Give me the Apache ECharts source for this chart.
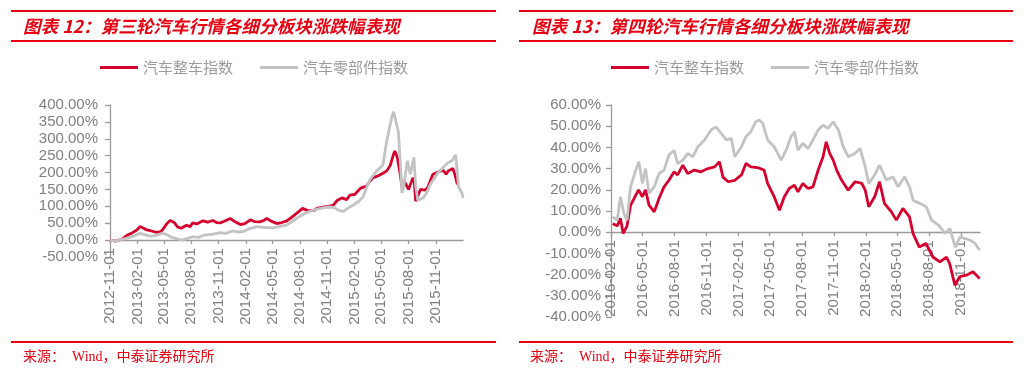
<!DOCTYPE html>
<html>
<head>
<meta charset="utf-8">
<script src="https://cdn.jsdelivr.net/npm/echarts@6/dist/echarts.min.js"></script>
<style>
html,body{margin:0;padding:0;background:#fff;}
#chart{width:1024px;height:373px;}
</style>
</head>
<body>
<div id="chart"></div>
<script>
// ---------- DATA ----------
const seriesNames = ['汽车整车指数', '汽车零部件指数'];
const titles = ['图表 12：第三轮汽车行情各细分板块涨跌幅表现', '图表 13：第四轮汽车行情各细分板块涨跌幅表现'];
const sourceText = '来源：  Wind，中泰证券研究所';

const ticks3 = ['2012-11-01','2013-02-01','2013-05-01','2013-08-01','2013-11-01','2014-02-01','2014-05-01','2014-08-01','2014-11-01','2015-02-01','2015-05-01','2015-08-01','2015-11-01'];
const ticks4 = ['2016-02-01','2016-05-01','2016-08-01','2016-11-01','2017-02-01','2017-05-01','2017-08-01','2017-11-01','2018-02-01','2018-05-01','2018-08-01','2018-11-01'];
const range3 = ['2012-11-01', '2016-01-31'];
const range4 = ['2016-02-01', '2018-12-25'];

// Round 3: vehicle index (%)
const r3Vehicle = [
['2012-11-01',0],['2012-11-20',-3],['2012-12-10',2],['2012-12-28',14],['2013-01-16',22],['2013-01-30',30],
['2013-02-10',40],['2013-02-22',35],['2013-03-04',30],['2013-03-20',27],['2013-04-07',23],['2013-04-20',25],
['2013-04-28',32],['2013-05-10',48],['2013-05-22',58],['2013-06-05',52],['2013-06-16',39],['2013-06-28',35],
['2013-07-16',44],['2013-07-28',40],['2013-08-06',51],['2013-08-20',48],['2013-09-09',57],['2013-09-25',53],
['2013-10-13',58],['2013-10-25',52],['2013-11-06',51],['2013-11-20',56],['2013-12-10',64],['2013-12-25',55],
['2014-01-13',46],['2014-01-28',49],['2014-02-16',60],['2014-03-01',55],['2014-03-19',54],['2014-04-01',58],
['2014-04-12',64],['2014-04-25',57],['2014-05-15',49],['2014-06-01',52],['2014-06-18',57],['2014-07-05',68],
['2014-07-22',80],['2014-08-10',94],['2014-08-25',88],['2014-09-15',87],['2014-09-30',95],['2014-10-19',98],
['2014-11-05',100],['2014-11-22',104],['2014-12-05',118],['2014-12-20',125],['2015-01-05',120],['2015-01-16',133],
['2015-02-01',135],['2015-02-21',154],['2015-03-13',160],['2015-03-25',175],['2015-04-04',185],['2015-04-20',190],
['2015-05-07',198],['2015-05-20',205],['2015-06-01',222],['2015-06-12',255],['2015-06-16',264],['2015-06-24',246],
['2015-07-03',200],['2015-07-10',158],['2015-07-19',172],['2015-08-01',150],['2015-08-16',185],['2015-08-20',175],
['2015-08-25',115],['2015-09-10',150],['2015-09-25',148],['2015-10-04',155],['2015-10-22',195],['2015-11-05',200],
['2015-11-25',207],['2015-12-05',195],['2015-12-13',205],['2015-12-28',212],['2016-01-05',190],['2016-01-12',165]
];
// Round 3: parts index (%)
const r3Parts = [
['2012-11-01',0],['2012-11-20',-3],['2012-12-10',2],['2012-12-28',6],['2013-01-20',12],['2013-02-10',20],
['2013-02-25',16],['2013-03-15',12],['2013-04-05',14],['2013-04-25',20],['2013-05-10',17],['2013-05-25',9],
['2013-06-13',4],['2013-07-01',0],['2013-07-20',5],['2013-08-06',10],['2013-08-25',8],['2013-09-15',15],
['2013-10-13',18],['2013-11-06',22],['2013-11-25',20],['2013-12-19',27],['2014-01-05',24],['2014-01-22',25],
['2014-02-10',33],['2014-03-10',40],['2014-04-01',38],['2014-05-01',36],['2014-05-20',39],['2014-06-18',45],
['2014-07-05',55],['2014-07-22',65],['2014-08-10',75],['2014-08-25',82],['2014-09-28',92],['2014-10-20',96],
['2014-11-10',98],['2014-11-25',96],['2014-12-10',88],['2014-12-25',85],['2015-01-10',95],['2015-01-28',104],
['2015-02-15',115],['2015-03-01',128],['2015-03-15',160],['2015-03-25',180],['2015-04-16',205],['2015-05-07',222],
['2015-05-19',290],['2015-06-06',365],['2015-06-12',380],['2015-06-20',350],['2015-06-28',320],['2015-07-05',220],
['2015-07-10',140],['2015-07-16',160],['2015-07-28',235],['2015-08-07',195],['2015-08-19',245],['2015-08-25',160],
['2015-09-01',118],['2015-09-19',125],['2015-10-01',140],['2015-10-13',165],['2015-11-06',197],['2015-11-25',215],
['2015-12-10',228],['2015-12-25',235],['2016-01-06',252],['2016-01-12',200],['2016-01-16',158],['2016-01-28',138],
['2016-01-31',125]
];
// Round 4: vehicle index (%)
const r4Vehicle = [
['2016-02-06',4],['2016-02-19',3],['2016-02-28',6.5],['2016-03-07',-0.6],['2016-03-18',3],['2016-03-28',12.7],
['2016-04-20',20],['2016-05-01',16.7],['2016-05-10',20],['2016-05-20',12.8],['2016-06-04',9.6],['2016-06-18',16],
['2016-07-02',21.4],['2016-07-16',24.5],['2016-07-31',28.5],['2016-08-10',27],['2016-08-25',31.6],['2016-09-08',27.7],
['2016-09-27',29.3],['2016-10-16',28.5],['2016-11-05',30],['2016-11-24',30.8],['2016-12-08',33.2],['2016-12-18',26],
['2017-01-02',23.8],['2017-01-21',24.5],['2017-02-09',27],['2017-02-22',32.4],['2017-03-08',30.8],['2017-03-27',30.5],
['2017-04-15',29.3],['2017-04-25',23],['2017-05-14',16.7],['2017-05-29',10.4],['2017-06-12',16.7],['2017-06-26',20.6],
['2017-07-11',22.2],['2017-07-21',19],['2017-08-04',23],['2017-08-19',20.6],['2017-09-02',21.4],['2017-09-17',29.3],
['2017-10-01',35.6],['2017-10-10',42.6],['2017-10-20',37.2],['2017-10-30',34],['2017-11-09',29.3],['2017-11-23',24.6],
['2017-12-12',19.8],['2018-01-01',23.8],['2018-01-20',23],['2018-01-30',19.8],['2018-02-09',12],['2018-02-26',16.7],
['2018-03-12',23.8],['2018-03-26',13.6],['2018-04-15',9.6],['2018-04-29',5.7],['2018-05-18',11.2],['2018-06-06',7.2],
['2018-06-16',-0.6],['2018-07-04',-7],['2018-07-23',-5.3],['2018-08-12',-11.7],['2018-09-01',-14],['2018-09-20',-11.7],
['2018-09-29',-14.8],['2018-10-14',-25],['2018-10-28',-21],['2018-11-16',-20.3],['2018-12-05',-18.7],['2018-12-24',-21.9]
];
// Round 4: parts index (%)
const r4Parts = [
['2016-02-06',7.2],['2016-02-19',5.7],['2016-02-28',16.7],['2016-03-09',8.8],['2016-03-18',5.7],['2016-03-28',21.4],
['2016-04-12',29.3],['2016-04-21',33.2],['2016-05-01',23],['2016-05-10',30],['2016-05-20',18.3],['2016-06-04',21.4],
['2016-06-18',27.7],['2016-07-02',29.3],['2016-07-16',36.4],['2016-07-31',38.7],['2016-08-10',32.4],['2016-08-25',34],
['2016-09-08',37.2],['2016-09-23',35.6],['2016-10-07',40.3],['2016-10-26',43.5],['2016-11-14',48.2],['2016-11-28',49.7],
['2016-12-13',46.6],['2016-12-28',43.5],['2017-01-11',44.3],['2017-01-21',35.6],['2017-02-09',40.3],['2017-02-22',45],
['2017-03-08',47.4],['2017-03-22',52.1],['2017-04-01',52.9],['2017-04-11',51.4],['2017-04-25',43.5],['2017-05-14',40.3],
['2017-06-03',34],['2017-06-17',38.7],['2017-07-01',45],['2017-07-11',47.4],['2017-07-21',38.7],['2017-08-04',41.9],
['2017-08-19',39.5],['2017-09-02',43.5],['2017-09-17',48.2],['2017-10-01',50.5],['2017-10-15',49],['2017-10-30',52.1],
['2017-11-14',48.2],['2017-11-28',40.3],['2017-12-12',35.6],['2018-01-01',37.2],['2018-01-15',39.5],['2018-01-30',30.8],
['2018-02-09',23],['2018-02-26',27],['2018-03-12',31.6],['2018-03-31',24.6],['2018-04-20',26.1],['2018-05-04',21.4],
['2018-05-23',26.1],['2018-06-06',21.4],['2018-06-16',15.1],['2018-07-05',13.6],['2018-07-24',12],['2018-08-08',5.7],
['2018-08-28',3.3],['2018-09-16',-0.6],['2018-09-30',1.7],['2018-10-15',-7],['2018-10-29',-2.2],['2018-11-12',-3],
['2018-11-27',-3.8],['2018-12-11',-5.3],['2018-12-24',-8.5]
];

// ---------- STYLE ----------
const RED = '#d5002e', GREY = '#c3c3c3', TITLE_RED = '#e60012';
const AXIS_GREY = '#9a9a9a', LABEL_GREY = '#7f7f7f';
const SANS = '"Liberation Sans", Arial, sans-serif';
const CJK = '"Noto Sans CJK SC", sans-serif';

const grids = [
  { left: 110, right: 561, top: 105, bottom: 116 },
  { left: 611, right: 44, top: 105, bottom: 56 }
];
const yRanges = [[-50, 400, 50], [-40, 60, 10]];

function ts(s) { const p = s.split('-').map(Number); return Date.UTC(p[0], p[1] - 1, p[2]); }
function pad(n) { return (n < 10 ? '0' : '') + n; }
function fmtDate(v) { const d = new Date(v); return d.getUTCFullYear() + '-' + pad(d.getUTCMonth() + 1) + '-' + pad(d.getUTCDate()); }
function toXY(arr) { return arr.map(function (p) { return [ts(p[0]), p[1]]; }); }

function xAxisFor(gi, ticks, range) {
  const tv = ticks.map(ts);
  const h = 373 - grids[gi].top - grids[gi].bottom;
  const yr = yRanges[gi];
  const off = -(0 - yr[0]) / (yr[1] - yr[0]) * h; // place the x axis on the 0% line
  return {
    type: 'value', gridIndex: gi, min: ts(range[0]), max: ts(range[1]), scale: true, offset: off,
    axisLine: { onZero: false, lineStyle: { color: AXIS_GREY, width: 1.3 } },
    axisTick: { show: true, length: 4, customValues: tv, lineStyle: { color: AXIS_GREY, width: 1.3 } },
    axisLabel: { customValues: tv, rotate: 90, margin: 8, color: LABEL_GREY, fontSize: 15, fontFamily: SANS,
      formatter: function (v) { return fmtDate(v); }, hideOverlap: false },
    splitLine: { show: false }
  };
}
function yAxisFor(gi, margin) {
  const yr = yRanges[gi];
  return {
    type: 'value', gridIndex: gi, min: yr[0], max: yr[1], interval: yr[2],
    axisLine: { show: true, lineStyle: { color: AXIS_GREY, width: 1.3 } },
    axisTick: { show: true, length: 5, lineStyle: { color: AXIS_GREY, width: 1.3 } },
    axisLabel: { margin: margin, color: LABEL_GREY, fontSize: 15, fontFamily: SANS,
      formatter: function (v) { return v.toFixed(2) + '%'; } },
    splitLine: { show: false }
  };
}
function lineSeries(name, color, xi, data, z) {
  return { name: name, type: 'line', xAxisIndex: xi, yAxisIndex: xi, data: toXY(data), showSymbol: false,
    symbol: 'none', lineStyle: { color: color, width: 2.8 }, itemStyle: { color: color }, z: z };
}
function legendFor(left) {
  return { left: left, top: 60, padding: 0, itemGap: 27, itemWidth: 38, itemHeight: 3, icon: 'rect',
    data: seriesNames, textStyle: { color: '#9a9a9a', fontSize: 15, fontFamily: CJK }, selectedMode: false };
}
function panelGraphics(x0, x1, tx, title, sx) {
  return [
    { type: 'line', shape: { x1: x0, y1: 11, x2: x1, y2: 11 }, style: { stroke: TITLE_RED, lineWidth: 2 } },
    { type: 'line', shape: { x1: x0, y1: 41, x2: x1, y2: 41 }, style: { stroke: TITLE_RED, lineWidth: 2 } },
    { type: 'text', x: tx, y: 26, style: { text: title, fill: TITLE_RED, fontSize: 17.6, fontWeight: 'bold',
      fontStyle: 'italic', fontFamily: CJK, verticalAlign: 'middle' } },
    { type: 'line', shape: { x1: x0, y1: 342, x2: x1, y2: 342 }, style: { stroke: TITLE_RED, lineWidth: 2 } },
    { type: 'text', x: sx, y: 357, style: { text: sourceText, fill: TITLE_RED, fontSize: 14,
      fontFamily: '"Liberation Serif", "Noto Sans CJK SC", serif', verticalAlign: 'middle' } }
  ];
}

const chart = echarts.init(document.getElementById('chart'), null, { renderer: 'canvas' });
chart.setOption({
  animation: false,
  backgroundColor: '#fff',
  legend: [legendFor(100), legendFor(611)],
  grid: grids.map(function (g) { return Object.assign({ containLabel: false, outerBoundsMode: 'none' }, g); }),
  xAxis: [xAxisFor(0, ticks3, range3), xAxisFor(1, ticks4, range4)],
  yAxis: [yAxisFor(0, 12), yAxisFor(1, 10)],
  series: [
    lineSeries(seriesNames[0], RED, 0, r3Vehicle, 2),
    lineSeries(seriesNames[1], GREY, 0, r3Parts, 3),
    lineSeries(seriesNames[0], RED, 1, r4Vehicle, 2),
    lineSeries(seriesNames[1], GREY, 1, r4Parts, 3)
  ],
  graphic: { elements: panelGraphics(11, 496, 23, titles[0], 23).concat(panelGraphics(519, 1013, 532, titles[1], 530)) }
});
</script>
</body>
</html>
